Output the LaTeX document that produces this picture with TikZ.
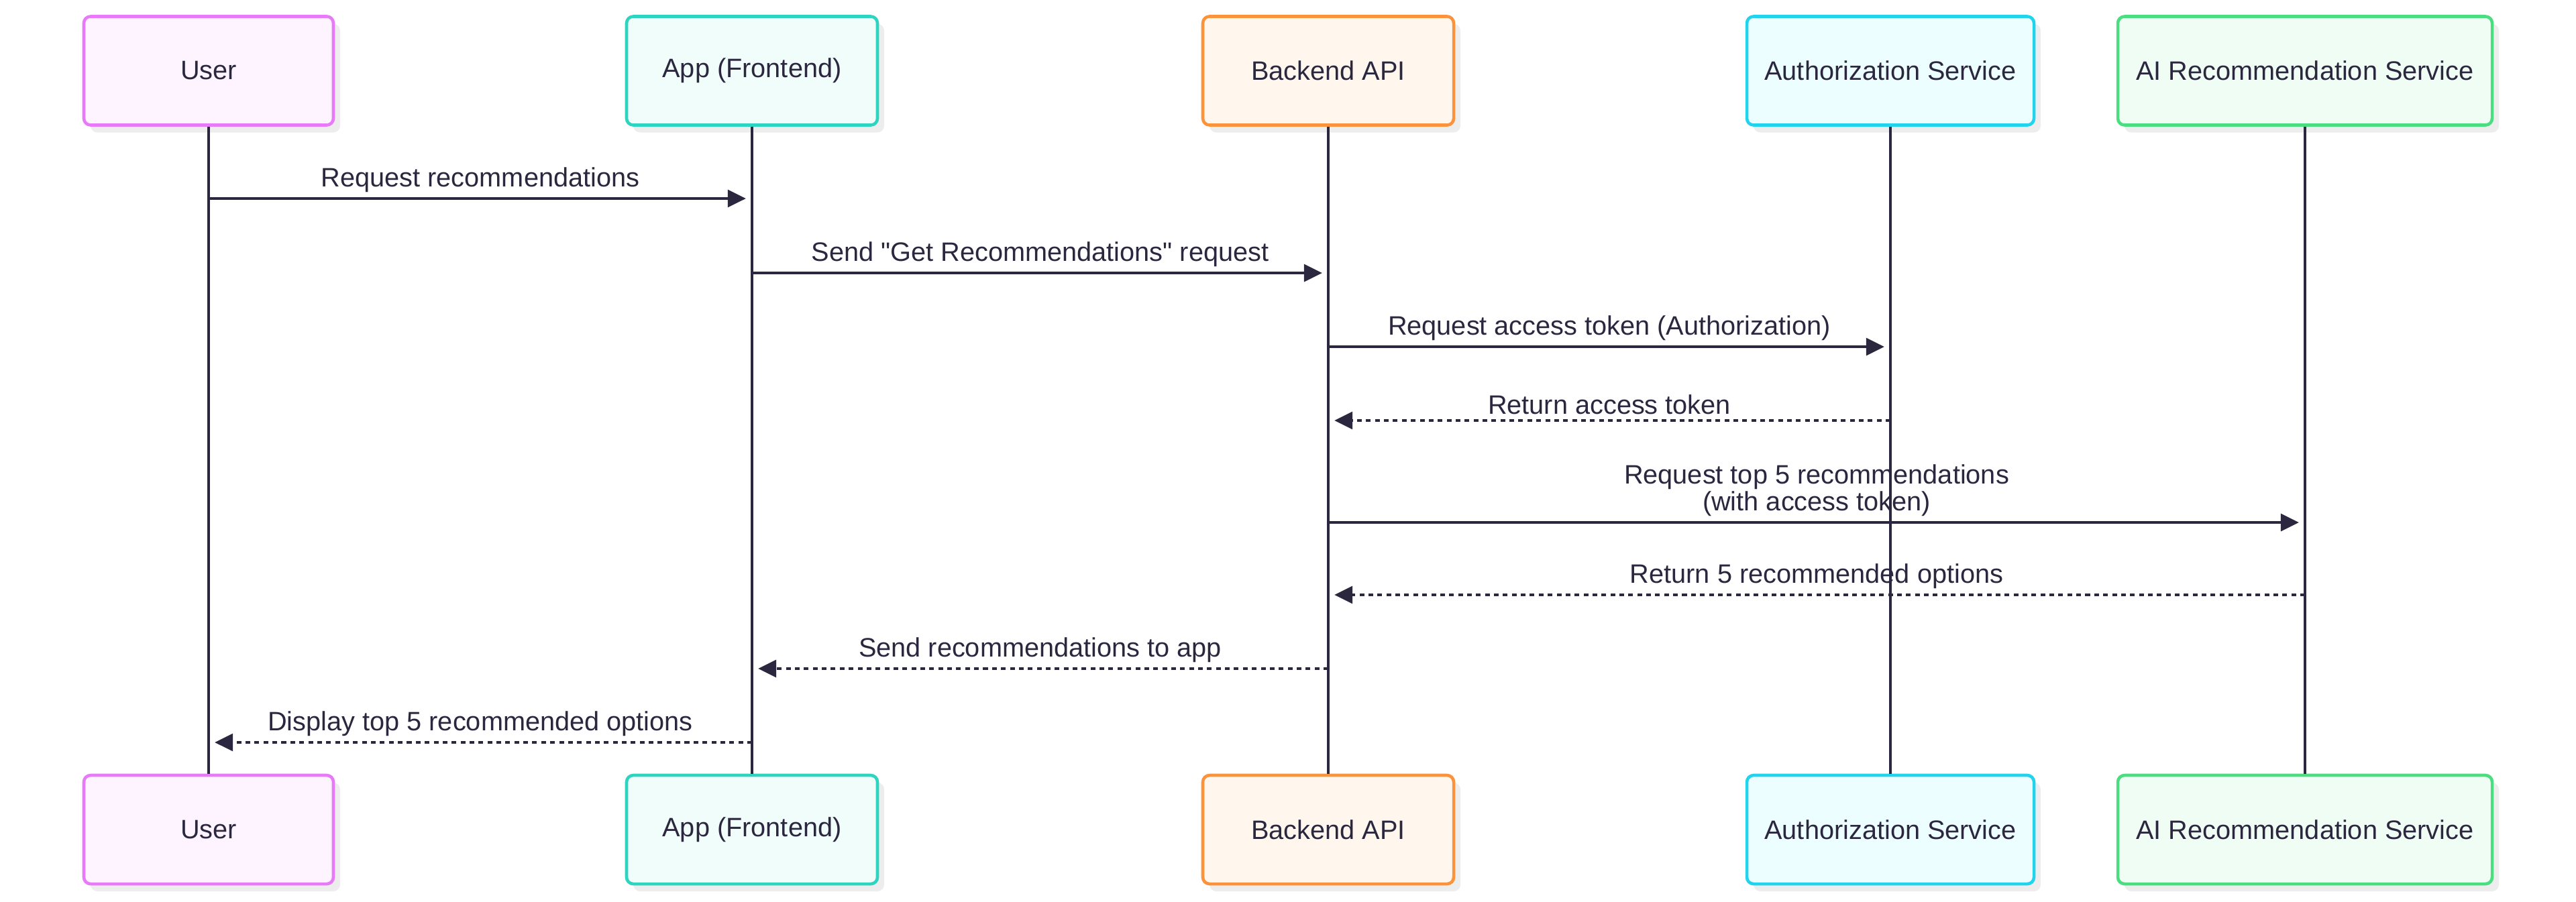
\documentclass[tikz,border=0pt]{standalone}
\usepackage{fontspec}
\setmainfont{Liberation Sans}[Ligatures=TeXOff]
\usetikzlibrary{arrows.meta,shadows}
\definecolor{ink}{RGB}{42, 39, 62}
\definecolor{userline}{RGB}{232, 121, 249}
\definecolor{userfill}{RGB}{253, 244, 255}
\definecolor{appline}{RGB}{45, 212, 191}
\definecolor{appfill}{RGB}{240, 253, 250}
\definecolor{apiline}{RGB}{251, 146, 60}
\definecolor{apifill}{RGB}{255, 247, 237}
\definecolor{authline}{RGB}{34, 211, 238}
\definecolor{authfill}{RGB}{236, 254, 255}
\definecolor{ailine}{RGB}{74, 222, 128}
\definecolor{aifill}{RGB}{240, 253, 244}
\def\ytop{-1.055}
\def\ybot{-12.37}

\begin{document}
\begin{tikzpicture}[line cap=butt,
    actor/.style={draw, rounded corners=0.1cm, line width=1.3pt, minimum height=1.62cm,
      text=ink, font=\fontsize{11.3}{13}\selectfont,
      drop shadow={shadow xshift=0.1cm, shadow yshift=-0.11cm, fill=black!7, opacity=1}},
    lifeline/.style={draw=ink, line width=1pt},
    msg/.style={draw=ink, line width=1.4pt, shorten >=0.09cm,
      -{Triangle[length=7.7pt, width=7.2pt]}},
    reply/.style={msg, dash pattern=on 2pt off 1.8pt},
    lbl/.style={text=ink, font=\fontsize{11.3}{11.4}\selectfont, align=center, inner ysep=2pt}]

                 \useasboundingbox (0, 0) rectangle (38.4, -13.44);

                 % participants, top
                 \node[actor, draw=userline, fill=userfill, minimum width=3.72cm] (user) at (3.11, \ytop) {User};
                 \node[actor, draw=appline, fill=appfill, minimum width=3.74cm] (app) at (11.21, \ytop) {App (Frontend)};
                 \node[actor, draw=apiline, fill=apifill, minimum width=3.74cm] (api) at (19.80, \ytop) {Backend API};
                 \node[actor, draw=authline, fill=authfill, minimum width=4.28cm] (auth) at (28.18, \ytop) {Authorization Service};
                 \node[actor, draw=ailine, fill=aifill, minimum width=5.58cm] (ai) at (34.36, \ytop) {AI Recommendation Service};

                 % participants, bottom
                 \node[actor, draw=userline, fill=userfill, minimum width=3.72cm] (userB) at (3.11, \ybot) {User};
                 \node[actor, draw=appline, fill=appfill, minimum width=3.74cm] (appB) at (11.21, \ybot) {App (Frontend)};
                 \node[actor, draw=apiline, fill=apifill, minimum width=3.74cm] (apiB) at (19.80, \ybot) {Backend API};
                 \node[actor, draw=authline, fill=authfill, minimum width=4.28cm] (authB) at (28.18, \ybot) {Authorization Service};
                 \node[actor, draw=ailine, fill=aifill, minimum width=5.58cm] (aiB) at (34.36, \ybot) {AI Recommendation Service};

                 % lifelines
                 \draw[lifeline] (user.south) -- (userB.north);
                 \draw[lifeline] (app.south) -- (appB.north);
                 \draw[lifeline] (api.south) -- (apiB.north);
                 \draw[lifeline] (auth.south) -- (authB.north);
                 \draw[lifeline] (ai.south) -- (aiB.north);

                 % messages
                 \draw[msg] (user |- 0, -2.96) -- (app |- 0, -2.96)
                 node[lbl, midway, above] {Request recommendations};
                 \draw[msg] (app |- 0, -4.07) -- (api |- 0, -4.07)
                 node[lbl, midway, above] {Send "Get Recommendations" request};
                 \draw[msg] (api |- 0, -5.17) -- (auth |- 0, -5.17)
                 node[lbl, midway, above] {Request access token (Authorization)};
                 \draw[reply] (auth |- 0, -6.27) -- (api |- 0, -6.27)
                 node[lbl, midway, above] {Return access token};
                 \draw[msg] (api |- 0, -7.79) -- (ai |- 0, -7.79)
                 node[lbl, midway, above] {Request top 5 recommendations\\(with access token)};
                 \draw[reply] (ai |- 0, -8.87) -- (api |- 0, -8.87)
                 node[lbl, midway, above] {Return 5 recommended options};
                 \draw[reply] (api |- 0, -9.97) -- (app |- 0, -9.97)
                 node[lbl, midway, above] {Send recommendations to app};
                 \draw[reply] (app |- 0, -11.07) -- (user |- 0, -11.07)
                 node[lbl, midway, above] {Display top 5 recommended options};

             \end{tikzpicture}
\end{document}
